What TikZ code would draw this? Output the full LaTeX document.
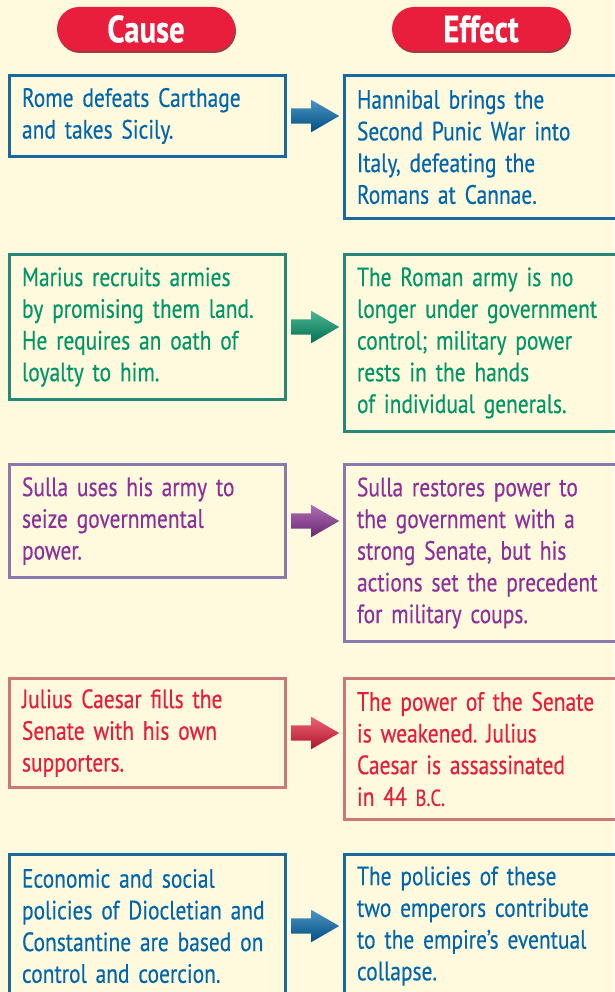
\documentclass[tikz,border=0pt]{standalone}
\usepackage{fontspec}
\setmainfont{PT Sans}[FakeStretch=0.81,FakeBold=0.4,WordSpace=0.85]
\frenchspacing
\hyphenpenalty=10000
\usetikzlibrary{shapes.arrows,shadows}

\definecolor{paper}{RGB}{255,250,222}
\definecolor{pillred}{RGB}{232,30,60}
\definecolor{bluetext}{RGB}{0,103,172}
\definecolor{blueline}{RGB}{25,105,160}
\definecolor{greentext}{RGB}{0,150,104}
\definecolor{greenline}{RGB}{40,135,118}
\definecolor{purpletext}{RGB}{140,50,150}
\definecolor{purpleline}{RGB}{140,120,175}
\definecolor{redtext}{RGB}{230,30,60}
\definecolor{redline}{RGB}{205,120,120}

\begin{document}
\begin{tikzpicture}[x=1pt,y=-1pt,
  head node/.style={rounded corners=22pt,fill=pillred,text=white,
    minimum width=178pt,minimum height=44pt,inner sep=0pt,
    font=\fontsize{38}{38}\selectfont\bfseries,
    drop shadow={shadow xshift=1pt,shadow yshift=-2pt,fill=pillred!55!black,opacity=0.8}},
  cause node/.style={draw=#1line,text=#1text,line width=3pt,anchor=north west,
    text width=251pt,inner xsep=12.5pt,inner ysep=0pt,align=left,
    font=\fontsize{26.5}{31.7}\selectfont},
  effect node/.style={draw=#1line,text=#1text,line width=3pt,anchor=north west,
    text width=247pt,inner xsep=12.5pt,inner ysep=0pt,align=left,
    font=\fontsize{26.5}{31.7}\selectfont},
  link node/.style={single arrow,anchor=west,xshift=4pt,
    minimum height=48pt,minimum width=32pt,inner xsep=0pt,inner ysep=7.5pt,
    single arrow tip angle=60,single arrow head extend=8.5pt,
    top color=#1!70!white,bottom color=#1!75!black,draw=none}]

  \fill[paper] (0,0) rectangle (614,992);
  \useasboundingbox (0,0) rectangle (614,992);

  \node[head node] (causehead) at (146,29) {Cause};
  \node[head node] (effecthead) at (481,29) {Effect};

  % row 1
  \node[cause node=blue,minimum height=81pt] (c1) at (8,74)
    {Rome defeats Carthage\\and takes Sicily.};
  \node[effect node=blue,minimum height=143pt] (e1) at (343,74)
    {Hannibal brings the\\Second Punic War into\\Italy, defeating the\\Romans at Cannae.};
  \node[link node=bluetext] (a1) at (c1.east) {};

  % row 2
  \node[cause node=green,minimum height=145pt] (c2) at (8,253)
    {Marius recruits armies\\by promising them land.\\He requires an oath of\\loyalty to him.};
  \node[effect node=green,minimum height=177pt] (e2) at (343,253)
    {The Roman army is no\\longer under government\\control; military power\\rests in the hands\\of individual generals.};
  \node[link node=greentext] (a2) at (c2.east) {};

  % row 3
  \node[cause node=purple,minimum height=113pt] (c3) at (8,463)
    {Sulla uses his army to\\seize governmental\\power.};
  \node[effect node=purple,minimum height=177pt] (e3) at (343,463)
    {Sulla restores power to\\the government with a\\strong Senate, but his\\actions set the precedent\\for military coups.};
  \node[link node=purpletext] (a3) at (c3.east) {};

  % row 4
  \node[cause node=red,minimum height=109pt] (c4) at (8,677)
    {Julius Caesar fills the\\Senate with his own\\supporters.};
  \node[effect node=red,minimum height=141pt] (e4) at (343,677)
    {The power of the Senate\\is weakened. Julius\\Caesar is assassinated\\in 44 {\fontsize{23}{31.7}\selectfont B.C.}};
  \node[link node=redtext] (a4) at (c4.east) {};

  % row 5
  \node[cause node=blue,minimum height=143pt] (c5) at (8,853)
    {Economic and social\\policies of Diocletian and\\Constantine are based on\\control and coercion.};
  \node[effect node=blue,minimum height=143pt] (e5) at (343,853)
    {The policies of these\\two emperors contribute\\to the empire’s eventual\\collapse.};
  \node[link node=bluetext] (a5) at (c5.east) {};
\end{tikzpicture}
\end{document}
